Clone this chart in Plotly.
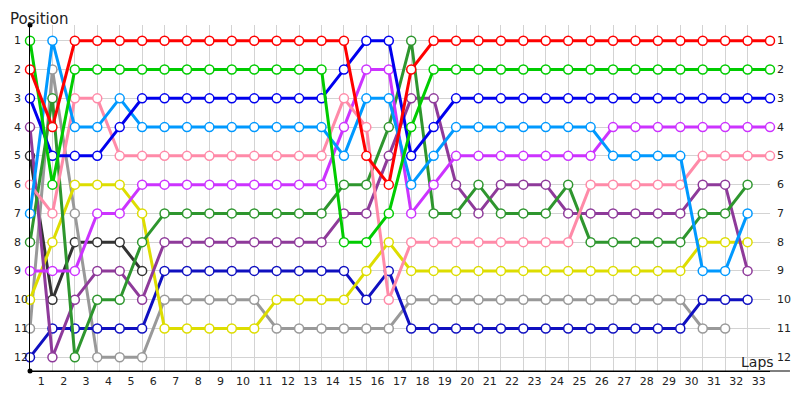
import plotly.graph_objects as go

# Lap 0 is the starting grid; None = car no longer running
laps = list(range(34))
lap_labels = list(range(1, 34))
positions = list(range(1, 13))

red = [2, 4] + [1] * 13 + [5, 6, 2] + [1] * 16
green = [1, 6] + [2] * 12 + [8, 8, 7, 4] + [2] * 16
blue = [3, 5, 5, 5, 4] + [3] * 9 + [2, 1, 1, 5, 4] + [3] * 15
light_blue = [7, 1, 4, 4, 3] + [4] * 9 + [5, 3, 3, 6, 5] + [4] * 7 + [5] * 4 + [9, 9, 7, None]
pink = [6, 7, 3, 3, 5] + [5] * 9 + [3, 4, 10] + [8] * 8 + [6] * 5 + [5] * 4
magenta = [9, 9, 9, 7, 7] + [6] * 9 + [4, 2, 2, 7, 6] + [5] * 7 + [4] * 8
yellow = [10, 8, 6, 6, 6, 7] + [11] * 5 + [10] * 4 + [9, 8] + [9] * 13 + [8, 8, 8, None]
dark_grey = [5, 10, 8, 8, 8, 9] + [None] * 28
grey = [11, 2, 7, 12, 12, 12] + [10] * 5 + [11] * 6 + [10] * 13 + [11, 11, None, None]
dark_green = [8, 3, 12, 10, 10, 8] + [7] * 8 + [6, 6, 4, 1, 7, 7, 6, 7, 7, 7, 6] + [8] * 5 + [7, 7, 6, None]
purple = [4, 12, 10, 9, 9, 10] + [8] * 8 + [7, 7, 5, 3, 3, 6, 7, 6, 6, 6, 7] + [7] * 5 + [6, 6, 9, None]
dark_blue = [12] + [11] * 5 + [9] * 9 + [10, 9] + [11] * 13 + [10, 10, 10, None]

series = [
    (dark_grey, "#333333"),
    (grey, "#999999"),
    (dark_blue, "#1010c0"),
    (yellow, "#dddd00"),
    (purple, "#8e3a9a"),
    (dark_green, "#2e962e"),
    (magenta, "#cc33ff"),
    (pink, "#ff8aa8"),
    (light_blue, "#0099ff"),
    (blue, "#0000ee"),
    (green, "#00cc00"),
    (red, "#ff0000"),
]

fig = go.Figure()
for values, color in series:
    fig.add_trace(go.Scatter(
        x=laps, y=values,
        mode="lines+markers",
        line=dict(color=color, width=3),
        marker=dict(size=9, color="white", line=dict(color=color, width=1.5)),
        cliponaxis=False,
        showlegend=False,
        hoverinfo="skip",
    ))

label_font = dict(family="DejaVu Sans", size=11, color="#222222")

# position labels on both sides, left-aligned like the original
annotations = []
for p in positions:
    annotations.append(dict(x=0, y=p, xref="paper", yref="y", text=str(p),
                            xanchor="left", xshift=-18, showarrow=False, font=label_font))
    annotations.append(dict(x=1, y=p, xref="paper", yref="y", text=str(p),
                            xanchor="left", xshift=5, showarrow=False, font=label_font))

annotations.append(dict(x=0, y=1, xref="paper", yref="paper", text="Position",
                        xanchor="left", yanchor="top", xshift=-22, yshift=17,
                        showarrow=False, font=dict(family="DejaVu Sans", size=15, color="#222222")))
annotations.append(dict(x=1, y=0, xref="paper", yref="paper", text="Laps",
                        xanchor="right", yanchor="bottom", xshift=6, yshift=-1,
                        showarrow=False, font=dict(family="DejaVu Sans", size=14, color="#222222")))

# small dots at the axis ends
dots = []
for yp in (0, 1):
    dots.append(dict(type="circle", xref="paper", yref="paper", xsizemode="pixel", ysizemode="pixel",
                     xanchor=0, yanchor=yp, x0=-2.5, x1=2.5, y0=-2.5, y1=2.5,
                     fillcolor="black", line=dict(width=0)))
dots.append(dict(type="line", xref="paper", yref="paper", x0=0, x1=1.027, y0=0, y1=0,
                 line=dict(color="black", width=1)))

# page body has an 8px margin, so the figure is a bit smaller than the window
fig.update_layout(
    width=792, height=392,
    margin=dict(l=22, r=30, t=17, b=25),
    plot_bgcolor="white", paper_bgcolor="white",
    xaxis=dict(
        range=[0, 33],
        tickmode="array",
        tickvals=[k - 0.5 for k in lap_labels],
        ticktext=[str(k) for k in lap_labels],
        showgrid=False, zeroline=False,
        showline=True, linecolor="black", linewidth=1,
        ticks="", tickfont=label_font,
        minor=dict(tickmode="linear", tick0=0, dtick=1, showgrid=True,
                   gridcolor="#d3d3d3", gridwidth=1, ticks=""),
    ),
    yaxis=dict(
        range=[12.48, 0.45],
        tickmode="array", tickvals=positions,
        showticklabels=False, ticks="",
        showgrid=True, gridcolor="#d3d3d3", gridwidth=1, zeroline=False,
        showline=True, linecolor="black", linewidth=1,
    ),
    annotations=annotations,
    shapes=dots,
)

fig.write_html("out.html")
